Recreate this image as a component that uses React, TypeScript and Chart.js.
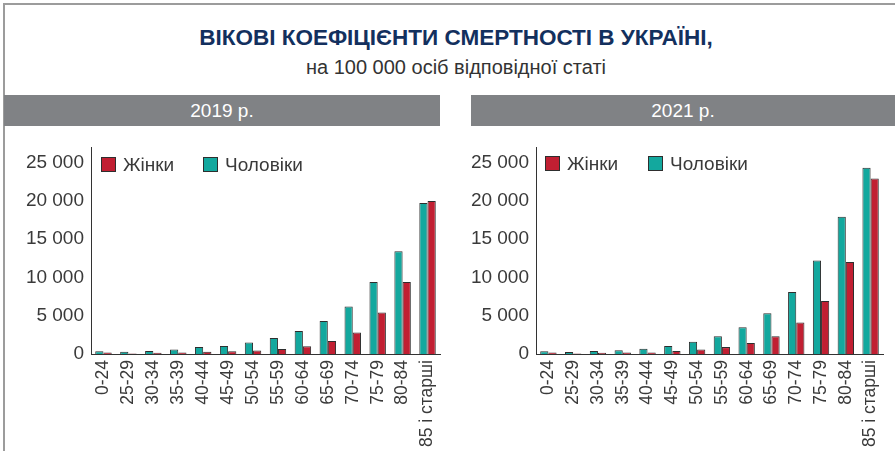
import React, { useEffect, useRef } from 'react';
import { Chart, registerables } from 'chart.js';

Chart.register(...registerables);

const AGE_GROUPS = ['0-24', '25-29', '30-34', '35-39', '40-44', '45-49', '50-54', '55-59', '60-64', '65-69', '70-74', '75-79', '80-84', '85 і старші'];
const MEN_2019 = [350, 280, 400, 600, 900, 1050, 1500, 2100, 3000, 4300, 6200, 9400, 13400, 19700];
const WOMEN_2019 = [200, 60, 150, 200, 300, 350, 450, 650, 1000, 1700, 2800, 5400, 9400, 19950];
const MEN_2021 = [350, 250, 400, 500, 700, 1050, 1600, 2300, 3500, 5300, 8100, 12200, 17900, 24300];
const WOMEN_2021 = [200, 60, 150, 200, 200, 400, 600, 900, 1450, 2300, 4100, 6900, 12000, 22900];
const Y_TICKS = [0, 5000, 10000, 15000, 20000, 25000];
const LABEL_MEN = 'Чоловіки';
const LABEL_WOMEN = 'Жінки';

const TEAL = '#13a89e';
const RED = '#c11f32';
const EDGE = '#2e2e2e';
const TEXT = '#3a3a3a';
const FONT = '"Liberation Sans", Arial, sans-serif';

const fmt = (v: number) => String(v).replace(/\B(?=(\d{3})+(?!\d))/g, ' ');

type PanelProps = {
  left: number;
  width: number;
  yWidth: number;
  padRight: number;
  men: number[];
  women: number[];
};

function Panel({ left, width, yWidth, padRight, men, women }: PanelProps) {
  const ref = useRef<HTMLCanvasElement | null>(null);
  const height = 311;
  useEffect(() => {
    if (!ref.current) return;
    const chart = new Chart(ref.current, {
      type: 'bar',
      data: {
        labels: AGE_GROUPS,
        datasets: [
          { label: LABEL_MEN, data: men, backgroundColor: TEAL, borderColor: EDGE, borderWidth: 1 },
          { label: LABEL_WOMEN, data: women, backgroundColor: RED, borderColor: EDGE, borderWidth: 1 },
        ],
      },
      options: {
        animation: false,
        responsive: false,
        events: [],
        layout: { padding: { top: 7, right: padRight, left: 0, bottom: 0 } },
        datasets: { bar: { categoryPercentage: 0.66, barPercentage: 1.0 } },
        plugins: { legend: { display: false }, tooltip: { enabled: false }, title: { display: false } },
        scales: {
          x: {
            type: 'category',
            grid: { display: false, drawTicks: false },
            border: { display: true, color: '#333', width: 1 },
            ticks: {
              autoSkip: false,
              maxRotation: 90,
              minRotation: 90,
              padding: 6,
              color: TEXT,
              font: { family: FONT, size: 17.5 },
            },
            afterFit: (s: any) => {
              s.height = 97;
              s.paddingLeft = 0;
              s.paddingRight = 0;
            },
          },
          y: {
            min: 0,
            max: 27000,
            grid: { display: false, drawTicks: false },
            border: { display: true, color: '#333', width: 1 },
            ticks: {
              padding: 7,
              color: TEXT,
              font: { family: FONT, size: 19 },
              callback: (v: any) => fmt(Number(v)),
            },
            afterBuildTicks: (s: any) => { s.ticks = Y_TICKS.map((v) => ({ value: v })); },
            afterFit: (s: any) => {
              s.width = yWidth;
              s.paddingTop = 0;
              s.paddingBottom = 0;
            },
          },
        },
      },
    });
    return () => chart.destroy();
  }, []);
  return (
    <div style={{ position: 'absolute', left, top: 140, width, height }}>
      <canvas ref={ref} width={width} height={height} style={{ width, height, display: 'block' }} />
    </div>
  );
}

function LegendItem({ x, y, color, text }: { x: number; y: number; color: string; text: string }) {
  return (
    <div style={{ position: 'absolute', left: x, top: y, height: 15, display: 'flex', alignItems: 'center', whiteSpace: 'nowrap' }}>
      <div style={{ width: 13, height: 13, background: color, border: `1px solid ${EDGE}` }} />
      <span style={{ marginLeft: 7, fontFamily: FONT, fontSize: 19, color: TEXT, lineHeight: '15px' }}>{text}</span>
    </div>
  );
}

export default function App() {
  return (
    <div style={{ position: 'absolute', left: 0, top: 0, width: 895, height: 451, background: '#fff', overflow: 'hidden' }}>
      <div style={{ position: 'absolute', left: 3, top: 3, width: 892, height: 448, borderTop: '2px solid #9c9c9c', borderLeft: '2px solid #9c9c9c', boxSizing: 'border-box' }} />
      <div style={{ position: 'absolute', left: 0, top: 24, width: 912, textAlign: 'center', fontFamily: FONT, fontWeight: 700, fontSize: 22.5, lineHeight: '28px', color: '#13305e' }}>
        ВІКОВІ КОЕФІЦІЄНТИ СМЕРТНОСТІ В УКРАЇНІ,
      </div>
      <div style={{ position: 'absolute', left: 0, top: 55, width: 912, textAlign: 'center', fontFamily: FONT, fontSize: 20, lineHeight: '24px', color: '#333' }}>
        на 100 000 осіб відповідної статі
      </div>
      <div style={{ position: 'absolute', left: 4, top: 95, width: 436, height: 31, background: '#808285', color: '#fff', fontFamily: FONT, fontSize: 19, lineHeight: '31px', textAlign: 'center' }}>
        2019 р.
      </div>
      <div style={{ position: 'absolute', left: 471, top: 95, width: 424, height: 31, background: '#808285', color: '#fff', fontFamily: FONT, fontSize: 19, lineHeight: '31px', textAlign: 'center' }}>
        2021 р.
      </div>
      <Panel left={0} width={450} yWidth={91} padRight={10} men={MEN_2019} women={WOMEN_2019} />
      <Panel left={450} width={445} yWidth={86} padRight={12} men={MEN_2021} women={WOMEN_2021} />
      <LegendItem x={101} y={157} color={RED} text={LABEL_WOMEN} />
      <LegendItem x={203} y={157} color={TEAL} text={LABEL_MEN} />
      <LegendItem x={545} y={156} color={RED} text={LABEL_WOMEN} />
      <LegendItem x={648} y={156} color={TEAL} text={LABEL_MEN} />
    </div>
  );
}
